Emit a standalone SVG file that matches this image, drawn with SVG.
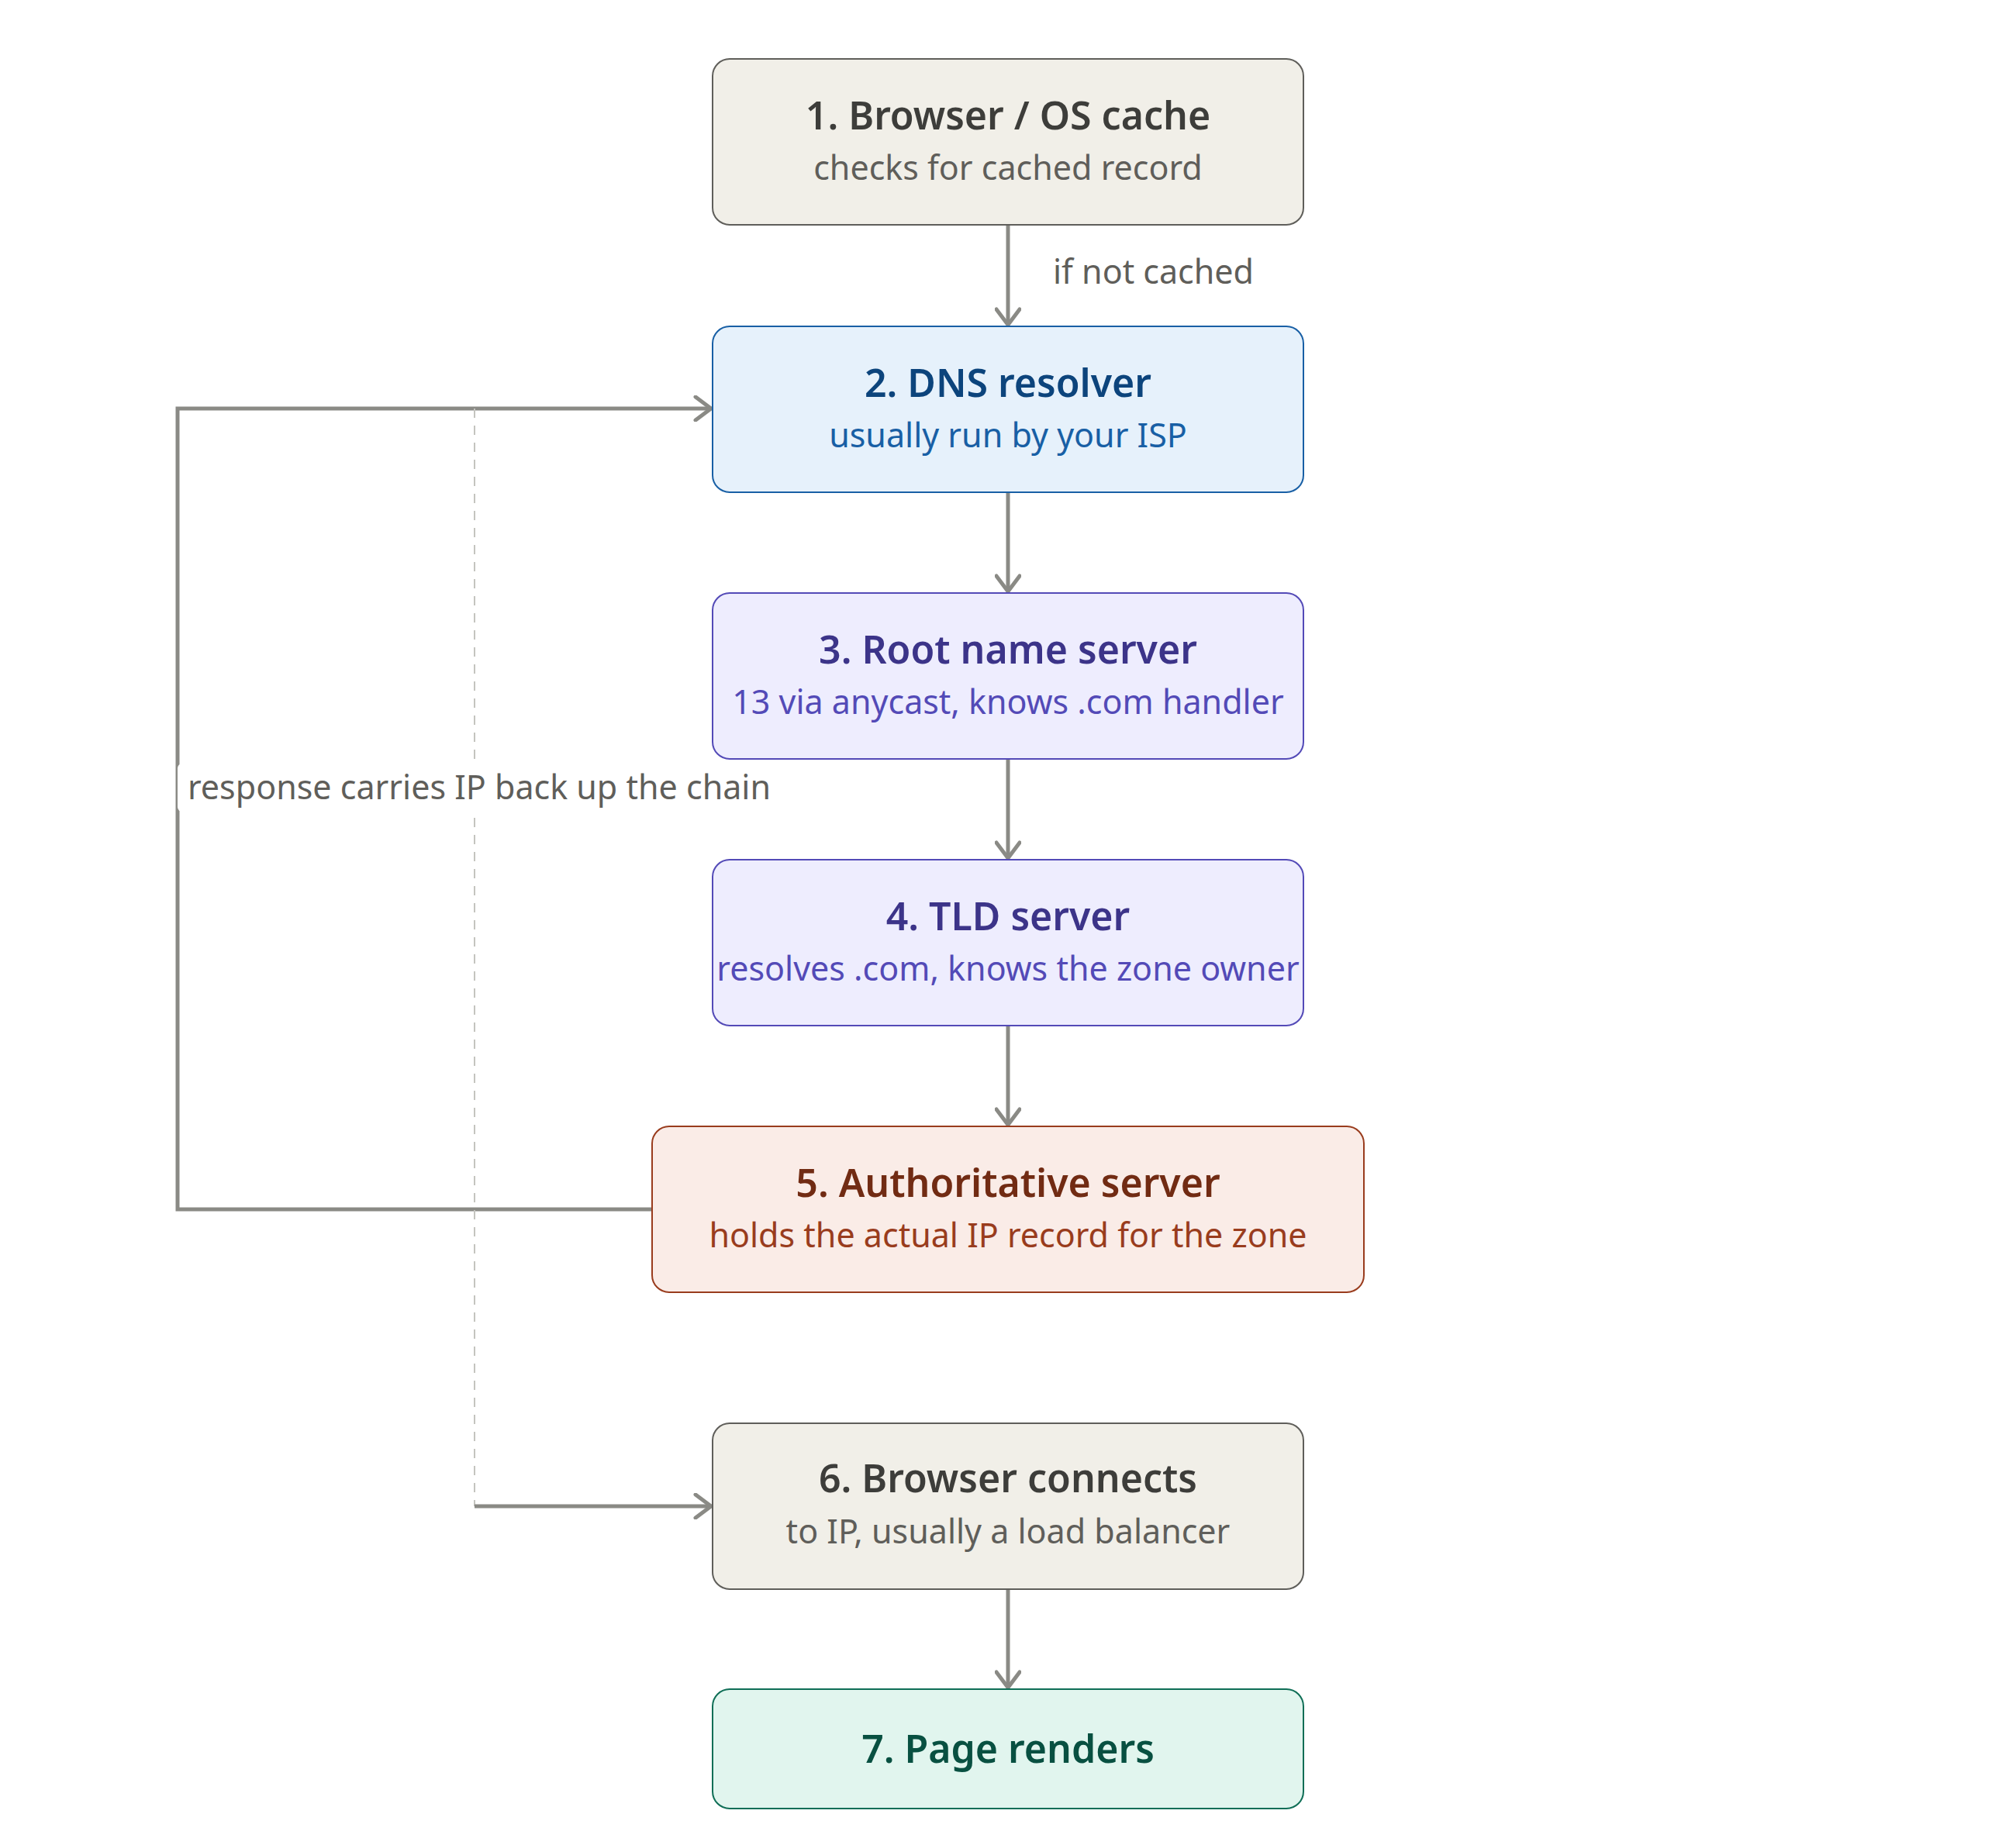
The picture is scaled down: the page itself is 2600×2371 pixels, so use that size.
<svg xmlns="http://www.w3.org/2000/svg" width="2600" height="2371" viewBox="0 0 2600 2371">
<style>
text{font-family:"Noto Sans","Open Sans","Liberation Sans",sans-serif;text-anchor:middle}
.t{font-size:50px;font-weight:600}
.s{font-size:43px;font-weight:400}
.lbl{font-size:43px;fill:#5f5e5a}
.gray rect{fill:#f1efe8;stroke:#5f5e5a}
.gray .t{fill:#3d3d3a}.gray .s{fill:#5f5e5a}
.blue rect{fill:#e6f1fb;stroke:#185fa5}
.blue .t{fill:#0c447c}.blue .s{fill:#185fa5}
.purple rect{fill:#eeedfe;stroke:#534ab7}
.purple .t{fill:#3c3489}.purple .s{fill:#534ab7}
.coral rect{fill:#faece7;stroke:#993c1d}
.coral .t{fill:#712b13}.coral .s{fill:#993c1d}
.teal rect{fill:#e1f5ee;stroke:#0f6e56}
.teal .t{fill:#085041}
.node rect{stroke-width:2}
.edge{fill:none;stroke:#8a8a85;stroke-width:5}
.dash{fill:none;stroke:#c4c4bf;stroke-width:2;stroke-dasharray:12 10}
</style>
<defs>
<marker id="arr" viewBox="0 0 26 34" refX="23" refY="17" markerWidth="26" markerHeight="34" markerUnits="userSpaceOnUse" orient="auto">
<path d="M3,2 L23,17 L3,32" fill="none" stroke="#8a8a85" stroke-width="5" stroke-linecap="round" stroke-linejoin="round"/>
</marker>
</defs>
<rect width="2600" height="2371" fill="#ffffff"/>
<g id="connectors">
<path class="edge" d="M1300 290 V419" marker-end="url(#arr)"/>
<path class="edge" d="M1300 635 V763" marker-end="url(#arr)"/>
<path class="edge" d="M1300 979 V1107" marker-end="url(#arr)"/>
<path class="edge" d="M1300 1323 V1451" marker-end="url(#arr)"/>
<path class="edge" d="M1300 2050 V2177" marker-end="url(#arr)"/>
<path class="edge" d="M841 1560 H229 V527 H917" marker-end="url(#arr)"/>
<path class="dash" d="M612 527 V1943"/>
<path class="edge" d="M612 1943 H917" marker-end="url(#arr)"/>
<text class="lbl" x="1358" y="366" style="text-anchor:start">if not cached</text>
<rect x="229" y="985" width="776" height="62" rx="6" fill="#ffffff"/>
<text class="lbl" x="618" y="1031">response carries IP back up the chain</text>
</g>
<g id="n1" class="node gray">
<rect x="919" y="76" width="762" height="214" rx="22"/>
<text class="t" x="1300" y="167">1. Browser / OS cache</text>
<text class="s" x="1300" y="232">checks for cached record</text>
</g>
<g id="n2" class="node blue">
<rect x="919" y="421" width="762" height="214" rx="22"/>
<text class="t" x="1300" y="512">2. DNS resolver</text>
<text class="s" x="1300" y="577">usually run by your ISP</text>
</g>
<g id="n3" class="node purple">
<rect x="919" y="765" width="762" height="214" rx="22"/>
<text class="t" x="1300" y="856">3. Root name server</text>
<text class="s" x="1300" y="921">13 via anycast, knows .com handler</text>
</g>
<g id="n4" class="node purple">
<rect x="919" y="1109" width="762" height="214" rx="22"/>
<text class="t" x="1300" y="1200">4. TLD server</text>
<text class="s" x="1300" y="1265">resolves .com, knows the zone owner</text>
</g>
<g id="n5" class="node coral">
<rect x="841" y="1453" width="918" height="214" rx="22"/>
<text class="t" x="1300" y="1544">5. Authoritative server</text>
<text class="s" x="1300" y="1609">holds the actual IP record for the zone</text>
</g>
<g id="n6" class="node gray">
<rect x="919" y="1836" width="762" height="214" rx="22"/>
<text class="t" x="1300" y="1925">6. Browser connects</text>
<text class="s" x="1300" y="1991">to IP, usually a load balancer</text>
</g>
<g id="n7" class="node teal">
<rect x="919" y="2179" width="762" height="154" rx="22"/>
<text class="t" x="1300" y="2274">7. Page renders</text>
</g>
</svg>
